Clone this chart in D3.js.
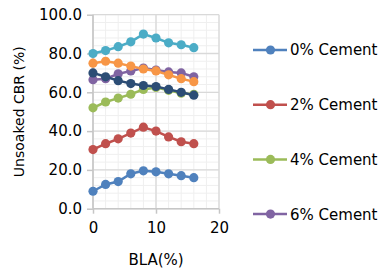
<!DOCTYPE html>
<html>
<head>
<meta charset="utf-8">
<script src="https://cdn.jsdelivr.net/npm/d3@7"></script>
<style>
  body { margin: 0; background: #fff; }
  text { font-family: "DejaVu Sans", sans-serif; fill: #000; }
</style>
</head>
<body>
<div id="chart"></div>
<script>
// BLA content on x, CBR values per cement content
var bla = [0, 2, 4, 6, 8, 10, 12, 14, 16];
var seriesNames = ["0% Cement", "2% Cement", "4% Cement", "6% Cement", "8% Cement", "10% Cement", "12% Cement"];
var cement0 = [9, 12.5, 14, 18, 19.5, 19, 18, 17, 16];
var cement2 = [30.5, 33.5, 36, 39, 42, 40, 37, 34.5, 33.5];
var cement4 = [52, 55, 57, 59, 61.5, 62.5, 61, 59.5, 59];
var cement6 = [66.5, 67, 69.5, 71, 72.5, 71.5, 70.5, 70, 68];
var cement8 = [80, 81.5, 83.5, 86, 90, 88, 85.5, 84.5, 83];
var cement10 = [75, 76, 75, 73.5, 72, 71, 69, 67, 65.5];
var cement12 = [70, 68, 66, 64.5, 63.5, 63, 61.5, 60, 58.5];
var allSeries = [cement0, cement2, cement4, cement6, cement8, cement10, cement12];
var legendCount = 4; // only first four fit in the legend
var xTicks = [0, 10, 20];
var yTicks = [0, 20, 40, 60, 80, 100];

var colors = ["#4F81BD", "#C0504D", "#9BBB59", "#8064A2", "#4BACC6", "#F79646", "#2C4D75"];

var W = 385, H = 277;
var margin = { top: 14.7, left: 93, right: 166, bottom: 68.3 };
var width = W - margin.left - margin.right,
    height = H - margin.top - margin.bottom;

var svg = d3.select("#chart").append("svg")
    .attr("width", W)
    .attr("height", H);

var g = svg.append("g")
    .attr("transform", "translate(" + margin.left + "," + margin.top + ")");

var x = d3.scaleLinear().domain([0, 20]).range([0, width]);
var y = d3.scaleLinear().domain([0, 100]).range([height, 0]);

// minor grid
g.append("g").selectAll("line")
    .data(d3.range(0, 21, 2))
    .enter().append("line")
    .attr("x1", d => x(d)).attr("x2", d => x(d))
    .attr("y1", 0).attr("y2", height)
    .attr("stroke", "#efefef");
g.append("g").selectAll("line")
    .data(d3.range(0, 101, 4))
    .enter().append("line")
    .attr("y1", d => y(d)).attr("y2", d => y(d))
    .attr("x1", 0).attr("x2", width)
    .attr("stroke", "#efefef");

// major grid
g.append("g").selectAll("line")
    .data(xTicks)
    .enter().append("line")
    .attr("x1", d => x(d)).attr("x2", d => x(d))
    .attr("y1", 0).attr("y2", height)
    .attr("stroke", "#d9d9d9").attr("stroke-width", 1.3);
g.append("g").selectAll("line")
    .data(yTicks)
    .enter().append("line")
    .attr("y1", d => y(d)).attr("y2", d => y(d))
    .attr("x1", 0).attr("x2", width)
    .attr("stroke", "#d9d9d9").attr("stroke-width", 1.3);

// axes
var xAxis = d3.axisBottom(x).tickValues(xTicks).tickSize(5).tickPadding(9)
    .tickFormat(d3.format("d"));
var yAxis = d3.axisLeft(y).tickValues(yTicks).tickSize(6).tickPadding(5)
    .tickFormat(d3.format(".1f"));

var gx = g.append("g")
    .attr("transform", "translate(0," + height + ")")
    .call(xAxis);
var gy = g.append("g").call(yAxis);

[gx, gy].forEach(function (a) {
    a.select(".domain").attr("stroke", "#c6c6c6").attr("stroke-width", 1.5);
    a.selectAll(".tick line").attr("stroke", "#c6c6c6").attr("stroke-width", 1.5);
    a.selectAll(".tick text").style("font-size", "15px").attr("fill", "#000");
});
gy.select(".domain").attr("d", "M0," + height + "V0");
gx.select(".domain").attr("d", "M0,0H" + width);

// series
var line = d3.line()
    .x((d, i) => x(bla[i]))
    .y(d => y(d));

allSeries.forEach(function (vals, si) {
    var s = g.append("g");
    s.append("path")
        .datum(vals)
        .attr("fill", "none")
        .attr("stroke", colors[si])
        .attr("stroke-width", 2.5)
        .attr("d", line);
    s.selectAll("circle")
        .data(vals)
        .enter().append("circle")
        .attr("cx", (d, i) => x(bla[i]))
        .attr("cy", d => y(d))
        .attr("r", 4.6)
        .attr("fill", colors[si]);
});

// axis titles
svg.append("text")
    .attr("x", margin.left + width / 2)
    .attr("y", 265)
    .attr("text-anchor", "middle")
    .style("font-size", "15px")
    .text("BLA(%)");

svg.append("text")
    .attr("transform", "translate(24," + (margin.top + height / 2) + ") rotate(-90)")
    .attr("text-anchor", "middle")
    .style("font-size", "14px")
    .text("Unsoaked CBR (%)");

// legend
var legend = svg.append("g").selectAll("g")
    .data(seriesNames.slice(0, legendCount))
    .enter().append("g")
    .attr("transform", (d, i) => "translate(253," + (50 + i * 54.7) + ")");
legend.append("line")
    .attr("x1", 0).attr("x2", 34)
    .attr("stroke", (d, i) => colors[i])
    .attr("stroke-width", 2.5);
legend.append("circle")
    .attr("cx", 17.5).attr("r", 4.6)
    .attr("fill", (d, i) => colors[i]);
legend.append("text")
    .attr("x", 37)
    .attr("dy", "0.36em")
    .style("font-size", "15px")
    .text(d => d);
</script>
</body>
</html>
